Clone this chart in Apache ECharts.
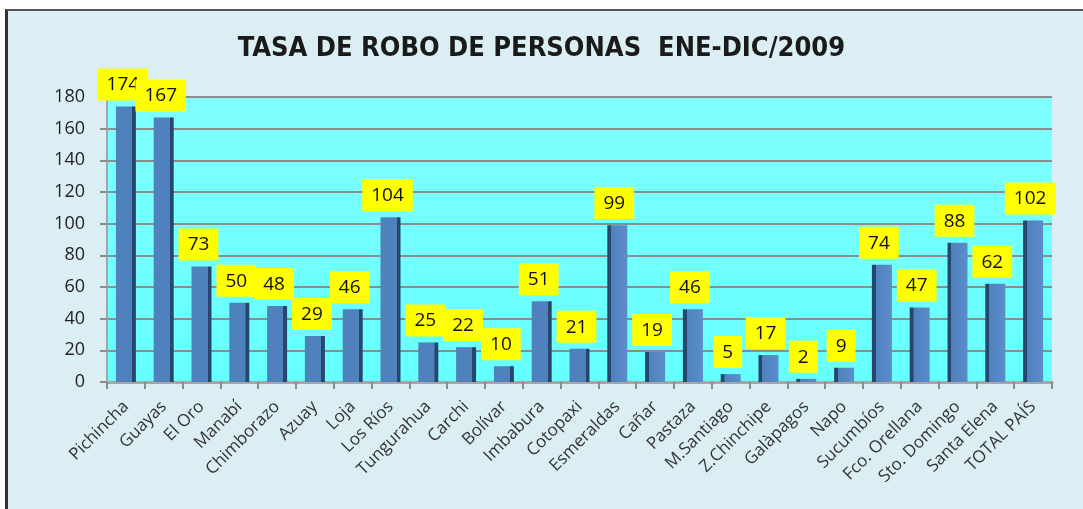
<!DOCTYPE html>
<html>
<head>
<meta charset="utf-8">
<script src="https://cdn.jsdelivr.net/npm/echarts@6/dist/echarts.min.js"></script>
<style>
  html, body { margin: 0; padding: 0; background: #ffffff; }
  #frame {
    position: absolute; left: 5px; top: 9px; width: 1078px; height: 500px;
    background: #dbeef3;
    border-left: 3px solid #333; border-top: 2px solid #555;
    box-sizing: border-box;
  }
  #chart { position: absolute; left: 0; top: 0; width: 1083px; height: 509px; }
</style>
</head>
<body>
<div id="frame"></div>
<div id="chart"></div>
<script>
const provincias = [
  'Pichincha', 'Guayas', 'El Oro', 'Manabí', 'Chimborazo', 'Azuay', 'Loja',
  'Los Ríos', 'Tungurahua', 'Carchi', 'Bolívar', 'Imbabura', 'Cotopaxi',
  'Esmeraldas', 'Cañar', 'Pastaza', 'M.Santiago', 'Z.Chinchipe', 'Galàpagos',
  'Napo', 'Sucumbíos', 'Fco. Orellana', 'Sto. Domingo', 'Santa Elena', 'TOTAL PAÍS'
];
const tasaRobo = [174, 167, 73, 50, 48, 29, 46, 104, 25, 22, 10, 51, 21, 99, 19, 46, 5, 17, 2, 9, 74, 47, 88, 62, 102];

const TITLE = 'TASA DE ROBO DE PERSONAS  ENE-DIC/2009';

// bars look 3D: dark side on the right for the left half, on the left for the right half
function barColor(i) {
  const n = provincias.length;
  const dark = '#27466e';
  const base = '#4f81bd';
  const stops = i < n / 2
    ? [{ offset: 0, color: base }, { offset: 0.8, color: base }, { offset: 0.82, color: dark }, { offset: 1, color: dark }]
    : [{ offset: 0, color: dark }, { offset: 0.18, color: dark }, { offset: 0.2, color: base }, { offset: 1, color: '#5b8dcc' }];
  return new echarts.graphic.LinearGradient(0, 0, 1, 0, stops);
}

const chart = echarts.init(document.getElementById('chart'));

chart.setOption({
  backgroundColor: 'transparent',
  animation: false,
  title: {
    text: TITLE,
    left: 'center',
    top: 30,
    textStyle: {
      fontFamily: '"Liberation Sans Narrow", "DejaVu Sans Condensed", sans-serif',
      fontSize: 27,
      fontWeight: 'bold',
      color: '#1a1a1a'
    }
  },
  grid: {
    left: 107,
    right: 31,
    top: 97,
    bottom: 127,
    show: true,
    borderWidth: 0,
    backgroundColor: new echarts.graphic.LinearGradient(0, 0, 0, 1, [
      { offset: 0, color: '#80ffff' },
      { offset: 1, color: '#66ffff' }
    ])
  },
  xAxis: {
    type: 'category',
    data: provincias,
    axisLine: { lineStyle: { color: '#a6a6a6', width: 3 } },
    axisTick: { show: true, length: 7, lineStyle: { color: '#8c8c8c', width: 2 } },
    axisLabel: {
      rotate: 45,
      interval: 0,
      margin: 22,
      fontSize: 17,
      fontFamily: '"Open Sans", "Noto Sans", sans-serif',
      color: '#333'
    }
  },
  yAxis: {
    type: 'value',
    min: 0,
    max: 180,
    interval: 20,
    axisLine: { show: true, lineStyle: { color: '#a6a6a6', width: 2 } },
    axisTick: { show: true, length: 7, lineStyle: { color: '#8c8c8c', width: 2 } },
    axisLabel: {
      fontSize: 18,
      margin: 22,
      fontFamily: '"Open Sans", "Noto Sans", sans-serif',
      color: '#222'
    },
    splitLine: { lineStyle: { color: '#8c8c8c', width: 2 } }
  },
  series: [{
    type: 'bar',
    barWidth: 20,
    data: tasaRobo.map((v, i) => ({ value: v, itemStyle: { color: barColor(i) } })),
    label: {
      show: true,
      position: 'top',
      distance: 6,
      offset: [-3, 0],
      backgroundColor: '#ffff00',
      padding: [7, 9, 6, 9],
      fontSize: 19,
      fontFamily: '"Open Sans", "Noto Sans", sans-serif',
      color: '#111'
    }
  }]
});
</script>
</body>
</html>
